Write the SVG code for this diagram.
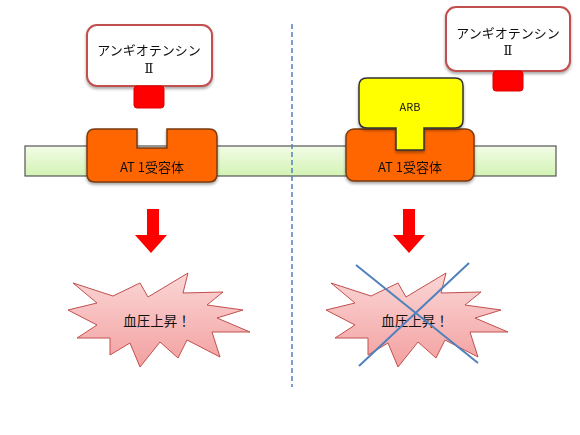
<svg xmlns="http://www.w3.org/2000/svg" width="580" height="435" viewBox="0 0 580 435">
<defs>
<linearGradient id="gMem" x1="0" y1="0" x2="0" y2="1">
<stop offset="0" stop-color="#f2fce6"/><stop offset="1" stop-color="#d3f3b4"/>
</linearGradient>
<linearGradient id="gBoom" x1="0" y1="0" x2="0" y2="1">
<stop offset="0" stop-color="#fbd6d6"/><stop offset="1" stop-color="#f3a0a0"/>
</linearGradient>
<filter id="sh" x="-20%" y="-20%" width="140%" height="150%">
<feGaussianBlur in="SourceAlpha" stdDeviation="1.5"/><feOffset dx="0" dy="2" result="b"/>
<feComponentTransfer><feFuncA type="linear" slope="0.35"/></feComponentTransfer>
<feMerge><feMergeNode/><feMergeNode in="SourceGraphic"/></feMerge>
</filter>
<polygon id="boom" points="73,283 113,296 140,283 148,297 188,273 183,293 223,292 207,305 243,310 217,318 250,332 212,332 220,357 187,340 178,358 160,342 140,367 130,343 110,355 110,338 77,338 97,325 68,310 97,303"/>
</defs>
<style>
.t{font-family:"Noto Sans CJK JP","Liberation Sans",sans-serif;fill:#111;text-anchor:middle;dominant-baseline:central}
.rn{font-family:"DejaVu Serif","Liberation Serif",serif}
.ang{fill:#fff;stroke:#c0504d;stroke-width:2}
.lig{fill:#ff0000;stroke:#e00000;stroke-width:1}
.rec{fill:#ff6600;stroke:#7a3a10;stroke-width:1.5}
.arb{fill:#ffff00;stroke:#333;stroke-width:1.5}
.boom{fill:url(#gBoom);stroke:#c0504d;stroke-width:1}
.arr{fill:#ff0000}
</style>
<rect width="580" height="435" fill="#fff"/>
<g id="membrane">
<rect x="25" y="146" width="531" height="30" fill="url(#gMem)" stroke="#555" stroke-width="1.2"/>
</g>
<g id="divider">
<line x1="292" y1="24" x2="292" y2="387" stroke="#4f81bd" stroke-width="1.5" stroke-dasharray="5,3"/>
</g>
<g id="angiotensin-left" filter="url(#sh)">
<rect class="ang" x="87" y="25" width="125" height="61" rx="10"/>
<text class="t" x="149" y="49" font-size="13">アンギオテンシン</text>
<text class="t rn" x="149" y="68" font-size="13">Ⅱ</text>
</g>
<g id="ligand-left"><rect class="lig" x="134" y="86" width="30" height="22" rx="3"/></g>
<g id="receptor-left" filter="url(#sh)">
<path class="rec" d="M95,129 H137 V148 H167 V129 H209 Q217,129 217,137 V174 Q217,182 209,182 H95 Q87,182 87,174 V137 Q87,129 95,129 Z"/>
<text class="t" x="152" y="166" font-size="13">AT 1受容体</text>
</g>
<g id="angiotensin-right" filter="url(#sh)">
<rect class="ang" x="446" y="7" width="124" height="64" rx="10"/>
<text class="t" x="508" y="32" font-size="13">アンギオテンシン</text>
<text class="t rn" x="508" y="50" font-size="13">Ⅱ</text>
</g>
<g id="ligand-right"><rect class="lig" x="493" y="71" width="30" height="20" rx="3"/></g>
<g id="receptor-right" filter="url(#sh)">
<rect class="rec" x="346" y="129" width="128" height="52" rx="8"/>
<text class="t" x="410" y="166" font-size="13">AT 1受容体</text>
</g>
<g id="arb" filter="url(#sh)">
<path class="arb" d="M367,78 H455 Q463,78 463,86 V120 Q463,128 455,128 H424 V150 H396 V128 H367 Q359,128 359,120 V86 Q359,78 367,78 Z"/>
<text class="t" x="410" y="106" font-size="11">ARB</text>
</g>
<g id="connectors">
<polygon class="arr" points="147,209 159,209 159,235 167,235 151,253 135,235 147,235"/>
<polygon class="arr" points="403,209 415,209 415,235 425,235 409,253 393,235 403,235"/>
</g>
<g id="bp-left">
<use href="#boom" class="boom"/>
<text class="t" x="157" y="320" font-size="13.5">血圧上昇！</text>
</g>
<g id="bp-right">
<use href="#boom" class="boom" transform="translate(258,0)"/>
<text class="t" x="415" y="320" font-size="13.5">血圧上昇！</text>
<line x1="356" y1="265" x2="478" y2="363" stroke="#4f81bd" stroke-width="2"/>
<line x1="469" y1="263" x2="359" y2="366" stroke="#4f81bd" stroke-width="2"/>
</g>
</svg>
